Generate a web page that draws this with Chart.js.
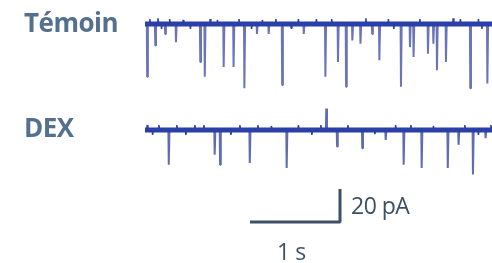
<!DOCTYPE html>
<html>
<head>
<meta charset="utf-8">
<script src="https://cdn.jsdelivr.net/npm/chart.js@4.4.0/dist/chart.umd.min.js"></script>
<style>
  body { margin: 0; background: #fff; }
  #wrap { position: relative; width: 492px; height: 263px; }
  canvas { position: absolute; left: 0; top: 0; }
  .lbl { position: absolute; font-family: "Open Sans", sans-serif; line-height: 1; white-space: nowrap; }
  .cond { font-weight: bold; color: #53718f; font-size: 26px; letter-spacing: -0.5px; }
  .bar { color: #3d5166; font-size: 23px; letter-spacing: -0.5px; }
</style>
</head>
<body>
<div id="wrap">
  <canvas id="trace" width="492" height="263"></canvas>
  <span class="lbl cond" style="left:24px; top:9px;">Témoin</span>
  <span class="lbl cond" style="left:24px; top:114px;">DEX</span>
  <span class="lbl bar" style="left:351px; top:194px;">20 pA</span>
  <span class="lbl bar" style="left:277px; top:240px;">1 s</span>
</div>
<script>
// event times (s from trace start) and amplitudes (pA)
var temoinTimes = [0.02, 0.11, 0.22, 0.34, 0.61, 0.66, 0.87, 0.98, 1.10, 1.24, 1.37, 1.52, 1.76,
                   2.00, 2.14, 2.23, 2.30, 2.39, 2.52, 2.60, 2.84, 2.94, 2.98, 3.14, 3.20, 3.24, 3.34, 3.61, 3.80];
var temoinAmps  = [-32, -13, -6, -11, -23, -32, -26, -26, -39, -6, -6, -37, -6,
                   -32, -23, -38, -10, -12, -6, -22, -38, -14, -20, -18, -12, -28, -23, -39, -36];
var dexTimes = [0.26, 0.77, 0.83, 1.16, 1.57, 2.01, 2.13, 2.41, 2.67, 2.87, 3.07, 3.36, 3.48, 3.64, 3.78];
var dexAmps  = [-21, -15, -21, -20, -23, 13, -10, -11, -6, -21, -23, -23, -9, -27, -5];

// small baseline fluctuations
var temoinNoiseT = [0.05, 0.14, 0.18, 0.27, 0.42, 0.50, 0.72, 0.80, 1.04, 1.18, 1.30, 1.45, 1.62, 1.70, 1.90, 2.07, 2.45, 2.70, 2.76, 3.05, 3.42, 3.50, 3.70, 3.74];
var temoinNoiseA = [3, 3.5, -3, 3, 2.5, -3, 3, 2.5, 3, -3, 2.5, 3, -2.5, 3, 3, 3, 3.5, 3, -3, 3, 3.5, 3, 3, -3];
var dexNoiseT = [0.02, 0.08, 0.15, 0.35, 0.45, 0.55, 0.65, 0.95, 1.05, 1.25, 1.40, 1.70, 1.85, 1.95, 2.25, 2.55, 2.78, 2.95, 3.20, 3.55, 3.70, 3.84];
var dexNoiseA = [3, -3, 3, 3, -3, 3, 3, -3, 3, 3, 2.5, 3, -3, 3, 3, -2.5, 3, 3, 2.5, 3, -3, 3];

var traceEnd = 3.86;
var pxPerS = 90, pxPerPA = 1.65;
var x0 = 145 / pxPerS;
var temoinBase = -24 / pxPerPA;
var dexBase = -130 / pxPerPA;

function buildTrace(times, amps, base, dur) {
    var pts = [{x: x0, y: base}];
    for (var i = 0; i < times.length; i++) {
        var t = x0 + times[i];
        pts.push({x: t, y: base});
        pts.push({x: t + 0.004, y: base + amps[i]});
        pts.push({x: t + 0.012, y: base});
    }
    pts.push({x: x0 + dur, y: base});
    return pts;
}

function baseline(base, dur) {
    return [{x: x0, y: base}, {x: x0 + dur, y: base}];
}

var scaleX = 250 / pxPerS, scaleY = -222 / pxPerPA;
var scaleBar = [{x: scaleX, y: scaleY}, {x: scaleX + 1, y: scaleY}, {x: scaleX + 1, y: scaleY + 20}];

var ctx = document.getElementById('trace').getContext('2d');
new Chart(ctx, {
    type: 'scatter',
    data: {
        datasets: [
            { data: baseline(temoinBase, traceEnd), borderColor: '#2b3fa8', borderWidth: 5, order: 1 },
            { data: buildTrace(temoinNoiseT, temoinNoiseA, temoinBase, traceEnd), borderColor: '#2b3fa8', borderWidth: 1.5, order: 2 },
            { data: buildTrace(temoinTimes, temoinAmps, temoinBase, traceEnd), borderColor: '#6a74b6', borderWidth: 2, order: 3 },
            { data: baseline(dexBase, traceEnd), borderColor: '#2b3fa8', borderWidth: 5, order: 1 },
            { data: buildTrace(dexNoiseT, dexNoiseA, dexBase, traceEnd), borderColor: '#2b3fa8', borderWidth: 1.5, order: 2 },
            { data: buildTrace(dexTimes, dexAmps, dexBase, traceEnd), borderColor: '#5f6bb2', borderWidth: 2, order: 3 },
            { data: scaleBar, borderColor: '#3d5166', borderWidth: 3, order: 0 }
        ]
    },
    options: {
        responsive: false,
        animation: false,
        showLine: true,
        layout: { padding: 0 },
        elements: { point: { radius: 0 }, line: { tension: 0, borderJoinStyle: 'bevel' } },
        plugins: { legend: { display: false }, tooltip: { enabled: false } },
        scales: {
            x: { type: 'linear', display: false, min: 0, max: 492 / pxPerS },
            y: { type: 'linear', display: false, min: -263 / pxPerPA, max: 0 }
        }
    }
});
</script>
</body>
</html>
